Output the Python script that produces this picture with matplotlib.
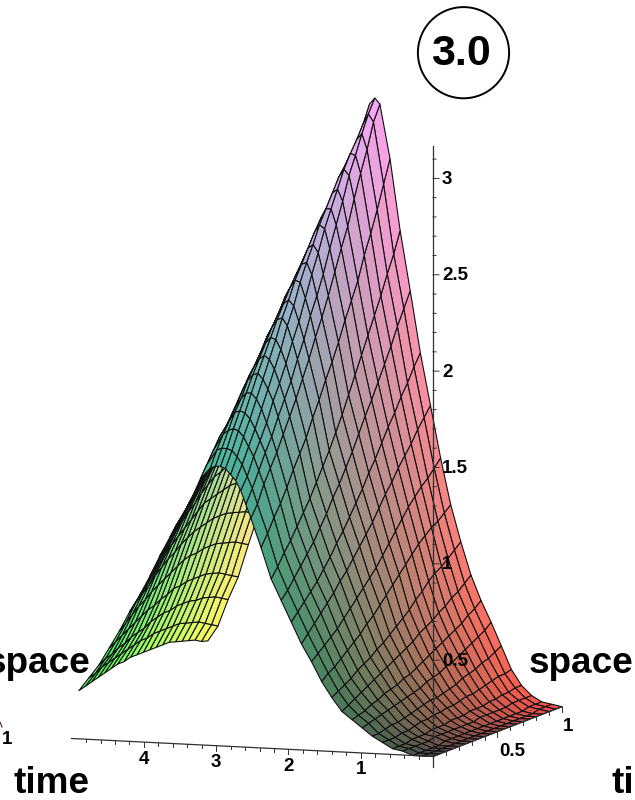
import numpy as np
import matplotlib
matplotlib.use('Agg')
import matplotlib.pyplot as plt
from matplotlib.patches import Circle
from mpl_toolkits.mplot3d import proj3d

plt.rcParams['font.family'] = ['Liberation Sans', 'DejaVu Sans']

## values
space_vals = [0, .05, .1, .15, .2, .25, .3, .35, .4, .45, .5, .55, .6, .65, .7, .75, .8, .85, .9, .95, 1]
time_vals = [0, .14, .28, .42, .56, .7, .84, .98, 1.12, 1.26, 1.4, 1.54, 1.68, 1.82, 1.96, 2.1, 2.24, 2.38,
             2.52, 2.59, 2.66, 2.73, 2.8, 2.87, 2.94, 3.01, 3.08, 3.22, 3.36, 3.5, 3.64, 3.78, 3.92, 4.06, 4.2,
             4.34, 4.48, 4.62, 4.76, 4.9]
# one row per time value, one column per space value
heights = [
 [0, 0, 0, 0, 0, 0, 0, 0, 0, 0, 0, 0, 0, 0, 0, 0, 0, 0, 0, 0, 0],
 [0, 0, 0, 0, 0, 0, 0, 0, 0, 0, 0, 0, 0, 0, 0, 0, 0, 0, .01, .01, .01],
 [0, 0, 0, 0, 0, .01, .01, .01, .01, .01, .01, .01, .01, .01, .01, .01, .01, .01, .02, .02, .02],
 [.02, .02, .02, .02, .02, .03, .03, .03, .03, .03, .03, .03, .04, .04, .04, .04, .04, .05, .05, .05, .05],
 [.03, .03, .03, .04, .04, .04, .05, .05, .05, .06, .06, .06, .07, .07, .07, .08, .08, .09, .09, .1, .1],
 [.06, .06, .06, .07, .07, .08, .09, .09, .1, .1, .11, .11, .12, .13, .13, .14, .15, .16, .17, .17, .18],
 [.09, .09, .1, .11, .11, .12, .13, .14, .15, .16, .16, .17, .18, .19, .21, .22, .23, .25, .26, .28, .3],
 [.13, .14, .15, .16, .17, .18, .19, .2, .21, .22, .24, .25, .26, .28, .29, .31, .33, .35, .37, .39, .42],
 [.17, .18, .19, .21, .22, .24, .25, .26, .28, .29, .31, .33, .35, .37, .39, .41, .43, .45, .48, .5, .53],
 [.21, .23, .25, .27, .29, .31, .33, .35, .37, .39, .41, .43, .46, .48, .5, .53, .55, .58, .6, .63, .66],
 [.28, .3, .32, .34, .37, .39, .41, .44, .46, .49, .52, .55, .58, .62, .65, .69, .72, .74, .77, .8, .83],
 [.36, .39, .41, .44, .47, .5, .53, .57, .6, .64, .68, .72, .76, .8, .84, .88, .91, .94, .96, .99, 1.02],
 [.46, .49, .52, .55, .58, .62, .66, .7, .74, .78, .82, .87, .92, .97, 1.02, 1.07, 1.11, 1.15, 1.18, 1.22, 1.26],
 [.55, .59, .63, .67, .71, .75, .8, .84, .89, .94, .99, 1.04, 1.1, 1.16, 1.21, 1.27, 1.32, 1.37, 1.43, 1.48, 1.53],
 [.66, .7, .74, .78, .82, .87, .92, .98, 1.03, 1.09, 1.15, 1.21, 1.28, 1.34, 1.41, 1.48, 1.54, 1.61, 1.67, 1.74, 1.8],
 [.77, .81, .86, .91, .96, 1.01, 1.07, 1.13, 1.2, 1.26, 1.33, 1.4, 1.48, 1.56, 1.63, 1.71, 1.79, 1.87, 1.96, 2.04, 2.12],
 [.88, .93, .99, 1.04, 1.1, 1.16, 1.22, 1.29, 1.36, 1.43, 1.51, 1.59, 1.68, 1.77, 1.86, 1.95, 2.04, 2.13, 2.23, 2.32, 2.43],
 [1.04, 1.1, 1.17, 1.23, 1.3, 1.38, 1.45, 1.52, 1.61, 1.69, 1.78, 1.86, 1.95, 2.05, 2.14, 2.23, 2.35, 2.45, 2.56, 2.68, 2.8],
 [1.19, 1.25, 1.34, 1.41, 1.48, 1.56, 1.64, 1.72, 1.81, 1.9, 2.0, 2.09, 2.19, 2.3, 2.41, 2.51, 2.64, 2.76, 2.87, 3.0, 3.08],
 [1.26, 1.33, 1.41, 1.49, 1.56, 1.65, 1.73, 1.81, 1.91, 2.0, 2.11, 2.2, 2.3, 2.42, 2.53, 2.64, 2.76, 2.85, 2.95, 3.04, 3.11],
 [1.33, 1.39, 1.48, 1.55, 1.63, 1.73, 1.81, 1.9, 2.0, 2.09, 2.2, 2.31, 2.41, 2.52, 2.61, 2.7, 2.79, 2.86, 2.92, 2.99, 3.08],
 [1.38, 1.45, 1.53, 1.61, 1.7, 1.79, 1.88, 1.97, 2.08, 2.17, 2.28, 2.37, 2.45, 2.54, 2.61, 2.68, 2.75, 2.8, 2.85, 2.91, 2.96],
 [1.41, 1.49, 1.58, 1.66, 1.75, 1.84, 1.93, 2.02, 2.12, 2.2, 2.29, 2.36, 2.43, 2.5, 2.56, 2.61, 2.67, 2.72, 2.77, 2.82, 2.86],
 [1.44, 1.52, 1.61, 1.69, 1.78, 1.87, 1.95, 2.03, 2.11, 2.18, 2.25, 2.31, 2.37, 2.43, 2.49, 2.53, 2.59, 2.63, 2.66, 2.71, 2.75],
 [1.45, 1.53, 1.62, 1.7, 1.78, 1.86, 1.93, 2.0, 2.07, 2.13, 2.2, 2.25, 2.3, 2.36, 2.4, 2.44, 2.49, 2.53, 2.56, 2.61, 2.64],
 [1.45, 1.53, 1.61, 1.69, 1.75, 1.83, 1.89, 1.95, 2.02, 2.07, 2.13, 2.17, 2.22, 2.27, 2.31, 2.35, 2.39, 2.43, 2.46, 2.5, 2.54],
 [1.44, 1.52, 1.59, 1.65, 1.71, 1.78, 1.84, 1.89, 1.95, 2.0, 2.05, 2.09, 2.13, 2.17, 2.21, 2.25, 2.3, 2.33, 2.36, 2.4, 2.43],
 [1.38, 1.44, 1.5, 1.56, 1.6, 1.66, 1.7, 1.75, 1.8, 1.83, 1.88, 1.92, 1.95, 2.0, 2.03, 2.07, 2.11, 2.14, 2.17, 2.21, 2.24],
 [1.26, 1.31, 1.37, 1.42, 1.46, 1.52, 1.57, 1.62, 1.67, 1.71, 1.76, 1.8, 1.84, 1.88, 1.91, 1.93, 1.96, 1.98, 2.0, 2.02, 2.03],
 [1.16, 1.21, 1.26, 1.31, 1.36, 1.41, 1.46, 1.51, 1.55, 1.6, 1.64, 1.67, 1.7, 1.73, 1.75, 1.77, 1.79, 1.8, 1.81, 1.83, 1.84],
 [1.07, 1.12, 1.16, 1.21, 1.25, 1.3, 1.34, 1.38, 1.42, 1.46, 1.5, 1.53, 1.55, 1.57, 1.59, 1.6, 1.61, 1.62, 1.62, 1.62, 1.62],
 [.97, 1.01, 1.06, 1.1, 1.15, 1.19, 1.23, 1.27, 1.31, 1.35, 1.38, 1.4, 1.42, 1.43, 1.44, 1.45, 1.45, 1.45, 1.45, 1.44, 1.43],
 [.86, .91, .95, .99, 1.04, 1.08, 1.12, 1.15, 1.19, 1.22, 1.25, 1.26, 1.28, 1.29, 1.3, 1.3, 1.3, 1.29, 1.28, 1.26, 1.24],
 [.76, .8, .84, .88, .92, .96, .99, 1.02, 1.05, 1.08, 1.11, 1.12, 1.13, 1.14, 1.15, 1.15, 1.15, 1.14, 1.12, 1.1, 1.08],
 [.67, .71, .74, .77, .81, .84, .87, .89, .92, .94, .96, .97, .98, .99, .99, .99, .98, .97, .96, .94, .92],
 [.57, .6, .63, .66, .68, .71, .73, .75, .77, .79, .81, .82, .82, .83, .83, .83, .82, .81, .8, .78, .76],
 [.48, .5, .52, .54, .56, .58, .6, .61, .63, .64, .66, .66, .67, .67, .67, .67, .66, .65, .63, .61, .59],
 [.39, .41, .42, .44, .45, .47, .48, .49, .51, .52, .53, .53, .54, .54, .54, .53, .53, .52, .51, .49, .47],
 [.32, .33, .35, .36, .37, .38, .39, .4, .41, .41, .42, .42, .42, .42, .42, .41, .4, .39, .37, .35, .33],
 [.25, .26, .27, .28, .29, .3, .31, .31, .32, .32, .32, .32, .32, .32, .32, .31, .3, .29, .28, .26, .25],
]

z_ticks = [.5, 1, 1.5, 2, 2.5, 3]
z_tick_labels = ['0.5', '1', '1.5', '2', '2.5', '3']
time_ticks = [1, 2, 3, 4]
time_tick_labels = ['1', '2', '3', '4']
space_ticks = [.5, 1]
space_tick_labels = ['0.5', '1']
badge = '3.0'

W, H = 635, 800
PX_S, PX_S_UP = 129.0, 49.8   # screen size of one unit of space
PX_Z = 192.7                  # screen size of one unit of height
ORIGIN = (433.0, 756.5)
AXCOL = '#303030'
TICKFONT = 13.5

S, T = np.meshgrid(space_vals, time_vals)
Z = np.array(heights)

# colour by position: red = space, green = time, blue = height
cols = np.dstack([S / S.max(), T / T.max(), Z / Z.max()])
cols = 0.3 + 0.7 * cols
cols = np.dstack([cols, np.ones(S.shape)])

fig = plt.figure(figsize=(W / 100, H / 100), dpi=100)
ax = fig.add_axes([0, 0, 1, 1], projection='3d', proj_type='ortho', computed_zorder=False)
ax.set_xlim(0, 1)
ax.set_ylim(0, 5)
ax.set_zlim(0, 3.2)
ax.set_xticks([])
ax.set_yticks([])
ax.set_zticks([])
ax.set_box_aspect((381.6, 76.8 * 5, 194.6 * 3.2))
ax.view_init(elev=7.97, azim=199.76)
ax.set_axis_off()
ax.patch.set_alpha(0)


def pixel(s, t, z):
    x2, y2, _ = proj3d.proj_transform(s, t, z, ax.get_proj())
    px, py = ax.transData.transform((x2, y2))
    return px, H - py


def place_axes():
    # scale and shift the square 3d box so the axes land where they are in the picture
    ax.apply_aspect()
    side = ax.get_position().width * W
    m = pixel(0, 0, 0)[1] - pixel(0, 0, 1)[1]
    side = side * PX_Z / m
    ax.set_position([0, 0, side / W, side / H])
    ax.apply_aspect()
    px, py = pixel(0, 0, 0)
    ax.set_position([(ORIGIN[0] - px) / W, (py - ORIGIN[1]) / H, side / W, side / H])
    ax.apply_aspect()


def off(dx, dy):
    # screen offset in pixels (right, down) written as a step in space and height
    return dx / PX_S, (-dy - dx * PX_S_UP / PX_S) / PX_Z


place_axes()

ax.plot_surface(S, T, Z, facecolors=cols, rstride=1, cstride=1, shade=False,
                edgecolor='#101010', linewidth=0.8, antialiased=True, zorder=1)

# axes
ax.plot([0, 0], [0, 0], [-0.055, 3.17], color=AXCOL, lw=0.9, zorder=5)
ax.plot([0, 0], [0, 5], [0, 0], color=AXCOL, lw=0.9, zorder=5)
ax.plot([0, 1], [0, 0], [0, 0], color=AXCOL, lw=0.9, zorder=5)

for z in np.arange(.1, 3.15, .1):
    major = abs(z * 2 - round(z * 2)) < 1e-6
    ds, dz = off(6 if major else 3, 0)
    ax.plot([0, ds], [0, 0], [z, z + dz], color=AXCOL, lw=0.7, zorder=5)
for t in np.arange(.2, 5, .2):
    major = abs(t - round(t)) < 1e-6
    dz = off(0, 5 if major else 3)[1]
    ax.plot([0, 0], [t, t], [0, dz], color=AXCOL, lw=0.7, zorder=5)
for s in np.arange(.1, 1.01, .1):
    major = abs(s * 2 - round(s * 2)) < 1e-6
    dz = off(0, 5 if major else 3)[1]
    ax.plot([s, s], [0, 0], [0, dz], color=AXCOL, lw=0.7, zorder=5)

for z, lab in zip(z_ticks, z_tick_labels):
    ds, dz = off(9, 1)
    ax.text(ds, 0, z + dz, lab, fontsize=TICKFONT, fontweight='bold', ha='left', va='center', zorder=6)
for t, lab in zip(time_ticks, time_tick_labels):
    ds, dz = off(0, 17)
    ax.text(ds, t, dz, lab, fontsize=TICKFONT, fontweight='bold', ha='center', va='center', zorder=6)
for s, lab, (dx, dy) in zip(space_ticks, space_tick_labels, [(15, 20), (6, 19.5)]):
    ds, dz = off(dx, dy)
    ax.text(s + ds, 0, dz, lab, fontsize=TICKFONT, fontweight='bold', ha='center', va='center', zorder=6)


def ftext(x, y, txt, size, ha='left', va='baseline'):
    fig.text(x / W, 1 - y / H, txt, fontsize=size, fontweight='bold', ha=ha, va=va)


ftext(90, 673, 'space', 26.6, ha='right')
ftext(529, 673, 'space', 26.6)
ftext(14, 793, 'time', 26.6)
ftext(612, 793, 'ti', 26.6)
ftext(7, 739, '1', TICKFONT, ha='center', va='center')
ftext(460.5, 65, badge, 31, ha='center')

# badge circle, in pixels
over = fig.add_axes([0, 0, 1, 1], zorder=-1)
over.set_xlim(0, W)
over.set_ylim(H, 0)
over.set_aspect('equal')
over.axis('off')
over.add_patch(Circle((463.5, 52.7), 45.6, fill=False, edgecolor='black', lw=1.4))
over.plot([0, 2], [722, 727], color='#502020', lw=0.8)

plt.savefig('out.png', dpi=100)
